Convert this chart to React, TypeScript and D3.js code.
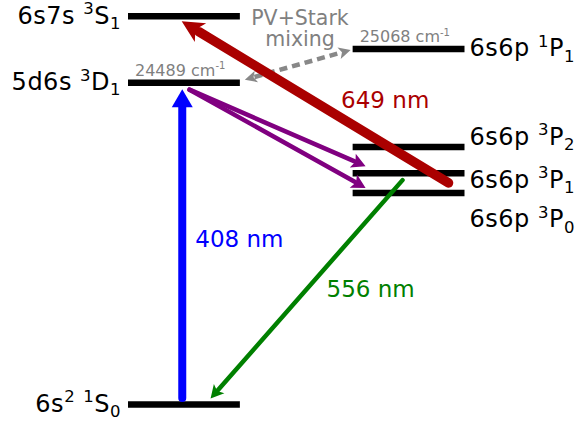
import * as d3 from "d3";

// energy levels: diagram height (0 = ground, 100 = top level), column, label pieces
// seg shift: 0 normal, 1 superscript, -1 subscript
type Seg = [string, number];

const levelIds = ["1S0", "3P0", "3P1", "3P2", "3D1", "1P1", "3S1"];
const levelHeights = [0, 54.5, 59.6, 66.3, 82.9, 91.6, 100];
const levelColumns = ["left", "right", "right", "right", "left", "right", "left"];
const levelLabels: Seg[][] = [
  [["6s", 0], ["2", 1], [" ", 0], ["1", 1], ["S", 0], ["0", -1]],
  [["6s6p ", 0], ["3", 1], ["P", 0], ["0", -1]],
  [["6s6p ", 0], ["3", 1], ["P", 0], ["1", -1]],
  [["6s6p ", 0], ["3", 1], ["P", 0], ["2", -1]],
  [["5d6s ", 0], ["3", 1], ["D", 0], ["1", -1]],
  [["6s6p ", 0], ["1", 1], ["P", 0], ["1", -1]],
  [["6s7s ", 0], ["3", 1], ["S", 0], ["1", -1]],
];
// label baseline tweak for the crowded triplet
const labelNudge = [0, 27, 7, -10, 0, 0, 0];

// wavenumbers shown above levels
const wavenumberLevels = ["3D1", "1P1"];
const wavenumberValues = [24489, 25068];

// transitions
const transFrom = ["1S0", "3P1", "3P0", "3D1", "3D1"];
const transTo = ["3D1", "1S0", "3S1", "3P1", "3P0"];
const transFromFrac = [0.485, 0.446, 0.857, 0.55, 0.55];
const transToFrac = [0.485, 0.738, 0.48, 0.116, 0.116];
const transFromDy = [-6.5, 7, -10, 7, 7];
const transToDy = [6.6, -6, 5, -7, -5];
const transColors = ["#0000ff", "#008000", "#aa0000", "#800080", "#800080"];
const transWidths = [8, 4.5, 9.5, 4.5, 4.5];
const transHead = [[18, 21, 0], [13, 14, 3], [22, 22, 6], [14, 15, 3], [14, 15, 3]];
const transLabels = ["408 nm", "556 nm", "649 nm", "", ""];
const transLabelOffset = [[13, 3], [20, 8], [26, 6], [0, 0], [0, 0]];

const W = 578;
const H = 426;

const y = d3.scaleLinear().domain([0, 100]).range([404.5, 16.3]);
const x = d3.scaleBand().domain(["left", "right"]).range([128, 464.5]).paddingInner(0.502);
const bw = x.bandwidth();

const levelIndex = (id: string) => levelIds.indexOf(id);
const levelY = (id: string) => y(levelHeights[levelIndex(id)]);
const levelX = (id: string, f: number) => (x(levelColumns[levelIndex(id)]) || 0) + f * bw;

function RichText({ segs, size, sub, ...rest }: any) {
  let cur = 0;
  return (
    <text {...rest} fontSize={size}>
      {segs.map(([t, s]: Seg, i: number) => {
        const off = s === 1 ? -size * 0.4 : s === -1 ? size * 0.22 : 0;
        const dy = off - cur;
        cur = off;
        return (
          <tspan key={i} dy={dy} fontSize={s === 0 ? size : sub}>
            {t}
          </tspan>
        );
      })}
    </text>
  );
}

function arrowHead(x1: number, y1: number, x2: number, y2: number, len: number, wid: number, notch: number) {
  const dx = x2 - x1;
  const dy = y2 - y1;
  const L = Math.hypot(dx, dy);
  const ux = dx / L;
  const uy = dy / L;
  const nx = -uy;
  const ny = ux;
  const bx = x2 - ux * len;
  const by = y2 - uy * len;
  const p = d3.path();
  p.moveTo(x2, y2);
  p.lineTo(bx + nx * wid / 2, by + ny * wid / 2);
  p.lineTo(bx + ux * notch, by + uy * notch);
  p.lineTo(bx - nx * wid / 2, by - ny * wid / 2);
  p.closePath();
  return { d: p.toString(), sx: x2 - ux * (len - 2), sy: y2 - uy * (len - 2) };
}

export default function App() {
  const font = "DejaVu Sans, sans-serif";

  // gray dashed double arrow between 3D1 and 1P1
  const gx1 = levelX("3D1", 1) + 5;
  const gy1 = levelY("3D1") - 3;
  const gx2 = levelX("1P1", 0) - 2;
  const gy2 = levelY("1P1") + 1;
  const gh1 = arrowHead(gx2, gy2, gx1, gy1, 12, 12, 3);
  const gh2 = arrowHead(gx1, gy1, gx2, gy2, 12, 12, 3);

  return (
    <svg width={W} height={H} style={{ position: "absolute", left: 0, top: 0 }} fontFamily={font}>
      <rect width={W} height={H} fill="#fff" />

      {levelIds.map((id, i) => {
        const col = levelColumns[i];
        const x0 = x(col) || 0;
        const yy = levelY(id);
        return (
          <g key={id}>
            <line x1={x0} x2={x0 + bw} y1={yy} y2={yy} stroke="#000" strokeWidth={6.5} />
            <RichText
              segs={levelLabels[i]}
              size={24}
              sub={16.5}
              x={col === "left" ? x0 - 7 : x0 + bw + 5}
              y={yy + 7.5 + labelNudge[i]}
              textAnchor={col === "left" ? "end" : "start"}
              fill="#000"
              letterSpacing={0.5}
            />
          </g>
        );
      })}

      {wavenumberLevels.map((id, i) => (
        <RichText
          key={id}
          segs={[[`${wavenumberValues[i]} cm`, 0], ["-1", 1]]}
          size={16}
          sub={10}
          x={levelX(id, 0) + 7}
          y={levelY(id) - 7}
          fill="#808080"
        />
      ))}

      <g fill="#808080" fontSize={20.5} textAnchor="middle">
        <text x={300} y={25}>PV+Stark</text>
        <text x={300} y={46}>mixing</text>
      </g>

      <line
        x1={gh1.sx}
        y1={gh1.sy}
        x2={gh2.sx}
        y2={gh2.sy}
        stroke="#888"
        strokeWidth={4.5}
        strokeDasharray="8,5"
      />
      <path d={gh1.d} fill="#888" />
      <path d={gh2.d} fill="#888" />

      {transFrom.map((from, i) => {
        const x1 = levelX(from, transFromFrac[i]);
        const y1 = levelY(from) + transFromDy[i];
        const x2 = levelX(transTo[i], transToFrac[i]);
        const y2 = levelY(transTo[i]) + transToDy[i];
        const [len, wid, notch] = transHead[i];
        const h = arrowHead(x1, y1, x2, y2, len, wid, notch);
        const mx = (x1 + x2) / 2;
        const my = (y1 + y2) / 2;
        return (
          <g key={i}>
            <line
              x1={x1}
              y1={y1}
              x2={h.sx}
              y2={h.sy}
              stroke={transColors[i]}
              strokeWidth={transWidths[i]}
              strokeLinecap="round"
            />
            <path d={h.d} fill={transColors[i]} />
            {transLabels[i] && (
              <text
                x={mx + transLabelOffset[i][0]}
                y={my + transLabelOffset[i][1]}
                fill={transColors[i]}
                fontSize={23}
              >
                {transLabels[i]}
              </text>
            )}
          </g>
        );
      })}
    </svg>
  );
}
